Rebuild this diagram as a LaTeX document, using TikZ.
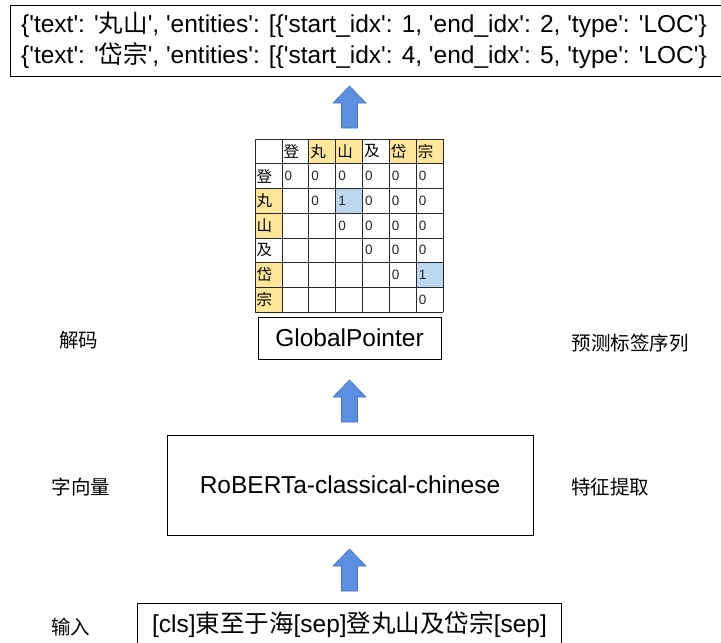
\documentclass[tikz,border=0pt]{standalone}
\usepackage{fontspec}
\setmainfont{Liberation Sans}[Ligatures=TeXOff]
\newfontfamily\cjk{Noto Sans CJK SC}[Ligatures=TeXOff]
\definecolor{arrowfill}{RGB}{91,143,223}
\definecolor{arrowline}{RGB}{68,114,196}
\definecolor{hdryellow}{RGB}{255,230,153}
\definecolor{hitblue}{RGB}{189,215,238}
\definecolor{gridgray}{RGB}{40,40,40}
\tikzset{
  bigtext/.style={inner sep=0pt, font=\fontsize{24.5}{30}\selectfont},
  sidelabel/.style={inner sep=0pt, font=\cjk\fontsize{19.5}{22}\selectfont},
  framebox/.style={draw=black, line width=0.9pt},
  gridline/.style={draw=gridgray, line width=0.6pt},
  cellchar/.style={inner sep=0pt, anchor=west, font=\cjk\fontsize{15.5}{16}\selectfont},
  cellnum/.style={inner sep=0pt, anchor=west, text=black!85, font=\fontsize{13.5}{14}\selectfont},
  blockarrow/.style={fill=arrowfill, draw=arrowline, line width=0.6pt, line join=miter},
  uparrow/.pic={\path[blockarrow] (0,0) -- (16.5,17) -- (8,17) -- (8,42) -- (-8,42) -- (-8,17) -- (-16.5,17) -- cycle;}
}
\begin{document}
\begin{tikzpicture}[x=1pt,y=-1pt]
\useasboundingbox (0,0) rectangle (721,643);

% output box
\draw[framebox] (10,5.5) rectangle (723,76.5);
\node[bigtext, anchor=base west] (out1) at (21,32) {\{'text': '{\cjk 丸山}', 'entities': [\{'start\_idx': 1, 'end\_idx': 2, 'type': 'LOC'\}};
\node[bigtext, anchor=base west] (out2) at (21,63) {\{'text': '{\cjk 岱宗}', 'entities': [\{'start\_idx': 4, 'end\_idx': 5, 'type': 'LOC'\}};

% arrows
\pic at (349.5,86) {uparrow};
\pic at (349.5,380) {uparrow};
\pic at (349.5,549) {uparrow};

% grid fills
\foreach \i in {2,3,5,6} {
  \fill[hdryellow] ({255+\i*188/7},139) rectangle ({255+(\i+1)*188/7},{139+173/7});
  \fill[hdryellow] (255,{139+\i*173/7}) rectangle ({255+188/7},{139+(\i+1)*173/7});
}
\fill[hitblue] ({255+3*188/7},{139+2*173/7}) rectangle ({255+4*188/7},{139+3*173/7});
\fill[hitblue] ({255+6*188/7},{139+5*173/7}) rectangle ({255+7*188/7},{139+6*173/7});
% grid lines
\foreach \i in {0,...,7} {
  \draw[gridline] ({255+\i*188/7},139) -- ({255+\i*188/7},312);
  \draw[gridline] (255,{139+\i*173/7}) -- (443,{139+\i*173/7});
}
% headers
\foreach \c [count=\i] in {登,丸,山,及,岱,宗} {
  \node[cellchar] (h\i) at ({255+\i*188/7+1.5},{139+173/14}) {\c};
  \node[cellchar] (r\i) at (256.5,{139+\i*173/7+173/14}) {\c};
}
% values
\foreach \r in {1,...,6} {
  \foreach \c in {\r,...,6} {
    \pgfmathtruncatemacro\v{((\r==2)&&(\c==3))||((\r==5)&&(\c==6))}
    \node[cellnum] (v\r\c) at ({255+\c*188/7+2.5},{139+\r*173/7+173/14}) {\v};
  }
}

% GlobalPointer
\draw[framebox] (258,317.5) rectangle (441,359);
\node[bigtext] (gp) at (349.5,338) {GlobalPointer};

% RoBERTa
\draw[framebox] (167,435.5) rectangle (533,535);
\node[bigtext] (rb) at (350,485) {RoBERTa-classical-chinese};

% input
\draw[framebox] (137.5,603.5) rectangle (561.5,650);
\node[bigtext] (inp) at (349.5,625) {[cls]{\cjk 東至于海}[sep]{\cjk 登丸山及岱宗}[sep]};

% side labels
\node[sidelabel] (dec) at (79,340) {解码};
\node[sidelabel] (pred) at (630,343) {预测标签序列};
\node[sidelabel] (emb) at (81,487) {字向量};
\node[sidelabel] (feat) at (610,487) {特征提取};
\node[sidelabel] (inl) at (71,627) {输入};
\end{tikzpicture}
\end{document}
